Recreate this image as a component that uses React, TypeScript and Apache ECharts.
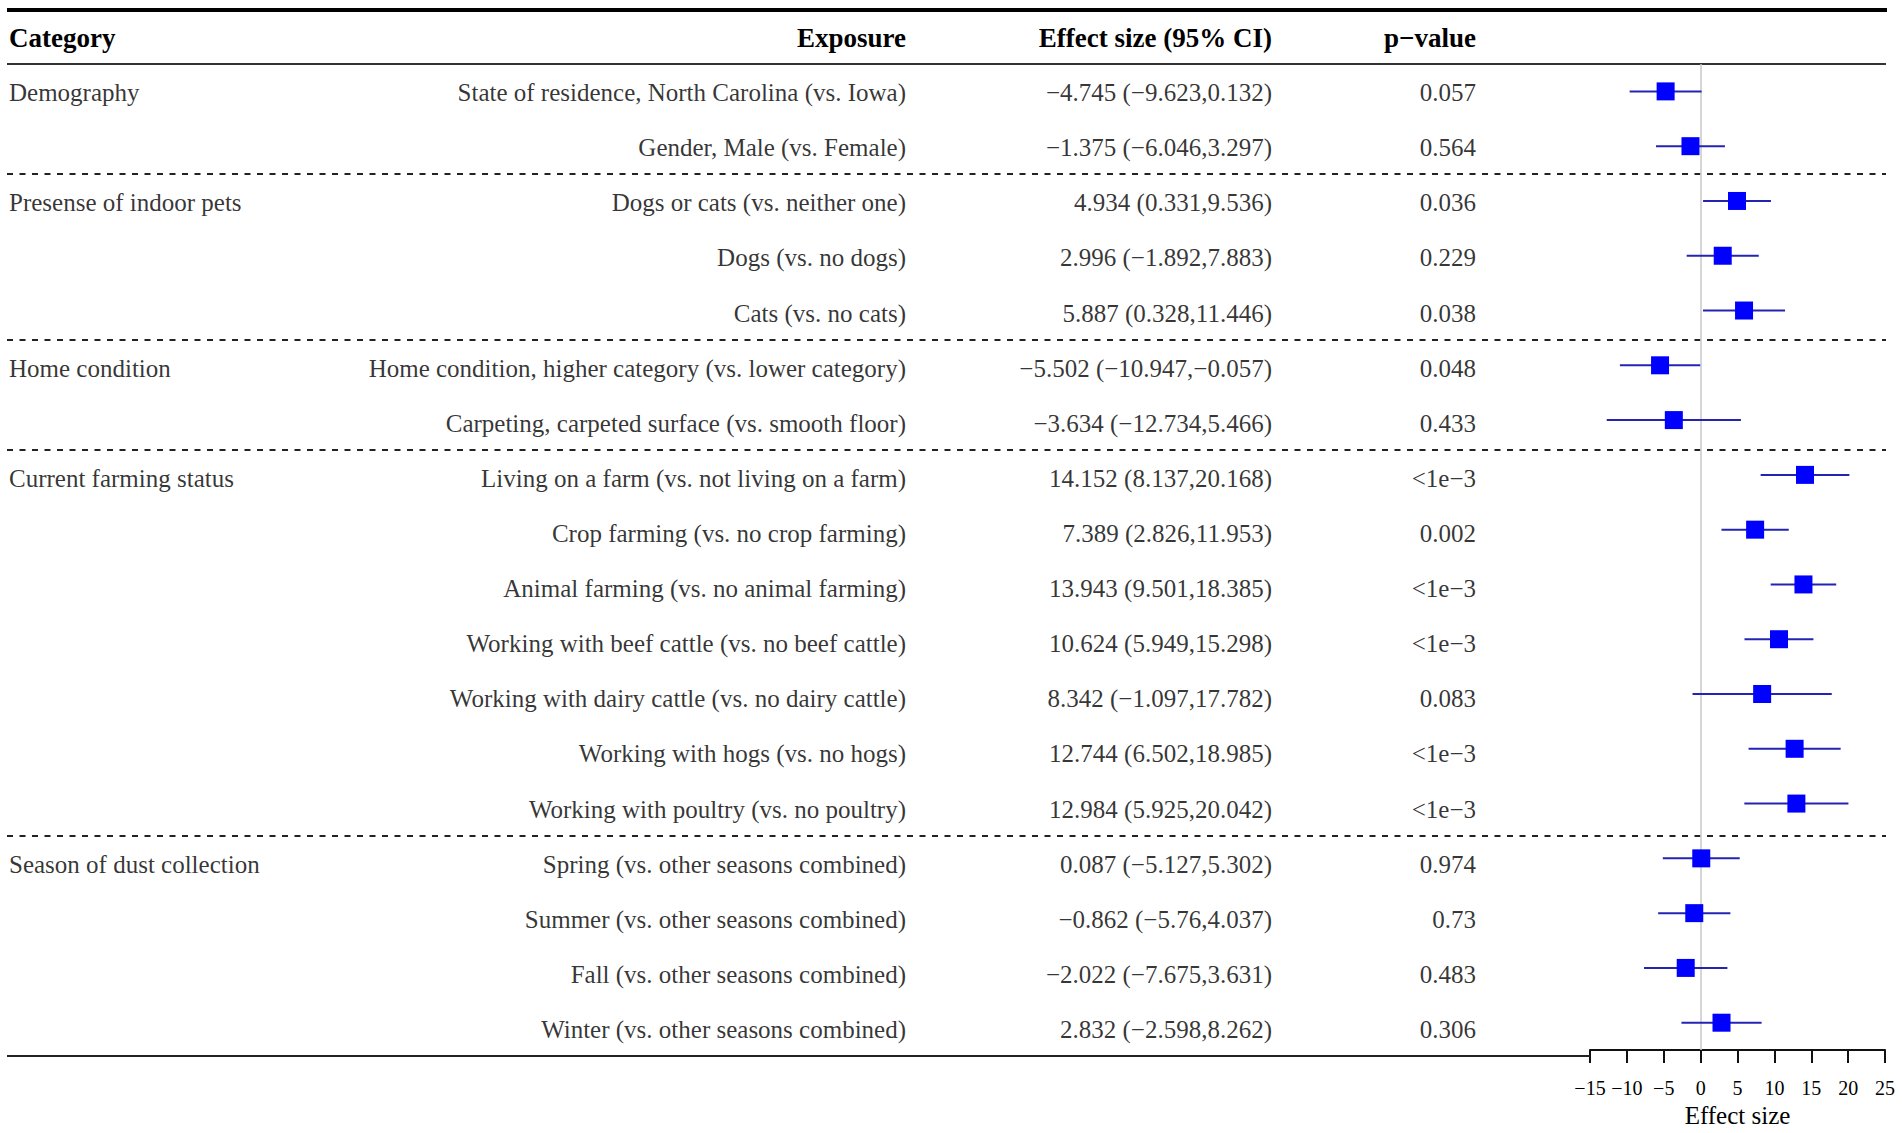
import React, { useEffect, useRef } from "react";
import * as echarts from "echarts";

// ---------- data ----------
const groupNames = [
  "Demography",
  "Presense of indoor pets",
  "Home condition",
  "Current farming status",
  "Season of dust collection",
];
const groupSizes = [2, 3, 2, 7, 4];

const exposures = [
  "State of residence, North Carolina (vs. Iowa)",
  "Gender, Male (vs. Female)",
  "Dogs or cats (vs. neither one)",
  "Dogs (vs. no dogs)",
  "Cats (vs. no cats)",
  "Home condition, higher category (vs. lower category)",
  "Carpeting, carpeted surface (vs. smooth floor)",
  "Living on a farm (vs. not living on a farm)",
  "Crop farming (vs. no crop farming)",
  "Animal farming (vs. no animal farming)",
  "Working with beef cattle (vs. no beef cattle)",
  "Working with dairy cattle (vs. no dairy cattle)",
  "Working with hogs (vs. no hogs)",
  "Working with poultry (vs. no poultry)",
  "Spring (vs. other seasons combined)",
  "Summer (vs. other seasons combined)",
  "Fall (vs. other seasons combined)",
  "Winter (vs. other seasons combined)",
];

const estimates = [
  -4.745, -1.375, 4.934, 2.996, 5.887, -5.502, -3.634, 14.152, 7.389, 13.943,
  10.624, 8.342, 12.744, 12.984, 0.087, -0.862, -2.022, 2.832,
];
const lowers = [
  -9.623, -6.046, 0.331, -1.892, 0.328, -10.947, -12.734, 8.137, 2.826, 9.501,
  5.949, -1.097, 6.502, 5.925, -5.127, -5.76, -7.675, -2.598,
];
const uppers = [
  0.132, 3.297, 9.536, 7.883, 11.446, -0.057, 5.466, 20.168, 11.953, 18.385,
  15.298, 17.782, 18.985, 20.042, 5.302, 4.037, 3.631, 8.262,
];
const pValues = [
  "0.057", "0.564", "0.036", "0.229", "0.038", "0.048", "0.433", "<1e\u22123",
  "0.002", "<1e\u22123", "<1e\u22123", "0.083", "<1e\u22123", "<1e\u22123",
  "0.974", "0.73", "0.483", "0.306",
];

const headers = ["Category", "Exposure", "Effect size (95% CI)", "p\u2212value"];
const xTicks = { min: -15, max: 25, step: 5 };
const xAxisTitle = "Effect size";

// ---------- layout / style ----------
const W = 1902;
const H = 1133;
const FONT = "Liberation Serif";
const GRID_TOP = 64;
const GRID_BOTTOM = 77;
const FOREST_LEFT = 1590;
const FOREST_RIGHT = 17;
const COL_CATEGORY_X = 9; // left aligned
const COL_EXPOSURE_X = 906; // right aligned
const COL_EFFECT_X = 1272; // right aligned
const COL_P_X = 1476; // right aligned
const LINE_LEFT = 7;
const LINE_RIGHT = 1886;

const minus = (s: string) => s.replace(/-/g, "\u2212");
const fmt = (v: number) => minus(String(v));

function buildOption() {
  const nRows = exposures.length;
  const rowMin = -0.5;
  const rowMax = nRows - 0.5;

  const groupStarts: number[] = [];
  let acc = 0;
  groupSizes.forEach((s) => {
    groupStarts.push(acc);
    acc += s;
  });
  const separators = groupStarts.slice(1).map((s) => s - 0.5);

  const textStyle = { fontFamily: FONT, fontSize: 25, color: "#000" };

  const textSeries = (
    data: { value: [number, number]; name: string }[],
    pos: "left" | "right"
  ) => ({
    type: "scatter",
    xAxisIndex: 0,
    yAxisIndex: 0,
    symbolSize: 0,
    silent: true,
    data,
    label: {
      show: true,
      position: pos,
      distance: 0,
      offset: [0, 1],
      formatter: (p: any) => p.name,
      ...textStyle,
    },
  });

  const catData = groupNames.map((g, i) => ({
    value: [COL_CATEGORY_X, groupStarts[i]] as [number, number],
    name: g,
  }));
  const expData = exposures.map((e, i) => ({
    value: [COL_EXPOSURE_X, i] as [number, number],
    name: e,
  }));
  const effData = estimates.map((e, i) => ({
    value: [COL_EFFECT_X, i] as [number, number],
    name: `${fmt(e)} (${fmt(lowers[i])},${fmt(uppers[i])})`,
  }));
  const pData = pValues.map((p, i) => ({
    value: [COL_P_X, i] as [number, number],
    name: p,
  }));

  const forestData = estimates.map((e, i) => [i, e, lowers[i], uppers[i]]);

  const headerY = (10 + GRID_TOP) / 2 + 1;
  const headerStyle = {
    fontFamily: FONT,
    fontSize: 27,
    fontWeight: "bold",
    fill: "#000",
    textVerticalAlign: "middle",
    verticalAlign: "middle",
  };

  return {
    animation: false,
    backgroundColor: "#ffffff",
    grid: [
      { left: 0, right: 0, top: GRID_TOP, bottom: GRID_BOTTOM },
      {
        left: FOREST_LEFT,
        right: FOREST_RIGHT,
        top: GRID_TOP,
        bottom: GRID_BOTTOM,
      },
    ],
    xAxis: [
      { type: "value", gridIndex: 0, min: 0, max: W, show: false },
      {
        type: "value",
        gridIndex: 1,
        position: "bottom",
        min: xTicks.min,
        max: xTicks.max,
        interval: xTicks.step,
        axisLine: { show: true, onZero: false, lineStyle: { color: "#111", width: 2 } },
        axisTick: { show: true, inside: false, length: 13, lineStyle: { color: "#111", width: 2 } },
        splitLine: { show: false },
        axisLabel: {
          fontFamily: FONT,
          fontSize: 20,
          color: "#000",
          margin: 28,
          formatter: (v: number) => fmt(v),
        },
        name: xAxisTitle,
        nameLocation: "middle",
        nameGap: 52,
        nameTextStyle: { fontFamily: FONT, fontSize: 25, color: "#000" },
      },
    ],
    yAxis: [
      { type: "value", gridIndex: 0, min: rowMin, max: rowMax, inverse: true, show: false },
      { type: "value", gridIndex: 1, min: rowMin, max: rowMax, inverse: true, show: false },
    ],
    graphic: [
      {
        type: "line",
        shape: { x1: LINE_LEFT, y1: 10, x2: LINE_RIGHT + 1, y2: 10 },
        style: { stroke: "#000", lineWidth: 4 },
        silent: true,
      },
      {
        type: "line",
        shape: { x1: LINE_LEFT, y1: GRID_TOP, x2: LINE_RIGHT, y2: GRID_TOP },
        style: { stroke: "#333", lineWidth: 2 },
        silent: true,
      },
      {
        type: "text",
        x: COL_CATEGORY_X,
        y: headerY,
        style: { ...headerStyle, text: headers[0], align: "left", textAlign: "left" },
      },
      {
        type: "text",
        x: COL_EXPOSURE_X,
        y: headerY,
        style: { ...headerStyle, text: headers[1], align: "right", textAlign: "right" },
      },
      {
        type: "text",
        x: COL_EFFECT_X,
        y: headerY,
        style: { ...headerStyle, text: headers[2], align: "right", textAlign: "right" },
      },
      {
        type: "text",
        x: COL_P_X,
        y: headerY,
        style: { ...headerStyle, text: headers[3], align: "right", textAlign: "right" },
      },
    ],
    series: [
      {
        ...textSeries(catData, "right"),
        markLine: {
          silent: true,
          symbol: ["none", "none"],
          label: { show: false },
          data: [
            ...separators.map((s) => [
              {
                coord: [LINE_LEFT, s],
                lineStyle: { type: [6, 6.5], color: "#222", width: 2 },
              },
              { coord: [LINE_RIGHT, s] },
            ]),
            [
              { coord: [LINE_LEFT, rowMax], lineStyle: { type: "solid", color: "#222", width: 2 } },
              { coord: [FOREST_LEFT, rowMax] },
            ],
          ],
        },
      },
      textSeries(expData, "left"),
      textSeries(effData, "left"),
      textSeries(pData, "left"),
      {
        type: "scatter",
        xAxisIndex: 1,
        yAxisIndex: 1,
        data: [],
        z: 1,
        markLine: {
          silent: true,
          symbol: ["none", "none"],
          label: { show: false },
          lineStyle: { color: "#c8c8c8", width: 1.5, type: "solid" },
          data: [{ xAxis: 0 }],
        },
      },
      {
        type: "custom",
        xAxisIndex: 1,
        yAxisIndex: 1,
        z: 5,
        silent: true,
        encode: { x: [1, 2, 3], y: 0 },
        data: forestData,
        renderItem: (params: any, api: any) => {
          const row = api.value(0);
          const c = api.coord([api.value(1), row]);
          const l = api.coord([api.value(2), row]);
          const r = api.coord([api.value(3), row]);
          const s = 18;
          return {
            type: "group",
            children: [
              {
                type: "line",
                shape: { x1: l[0], y1: l[1], x2: r[0], y2: r[1] },
                style: { stroke: "#2424b4", lineWidth: 2 },
              },
              {
                type: "rect",
                shape: { x: c[0] - s / 2, y: c[1] - s / 2, width: s, height: s },
                style: { fill: "#0000ff" },
              },
            ],
          };
        },
      },
    ],
  };
}

export default function App() {
  const ref = useRef<HTMLDivElement>(null);
  useEffect(() => {
    document.body.style.margin = "0";
    if (!ref.current) return;
    const chart = echarts.init(ref.current, undefined, { renderer: "svg" });
    chart.setOption(buildOption() as any);
    return () => chart.dispose();
  }, []);
  return <div ref={ref} style={{ width: W, height: H }} />;
}
